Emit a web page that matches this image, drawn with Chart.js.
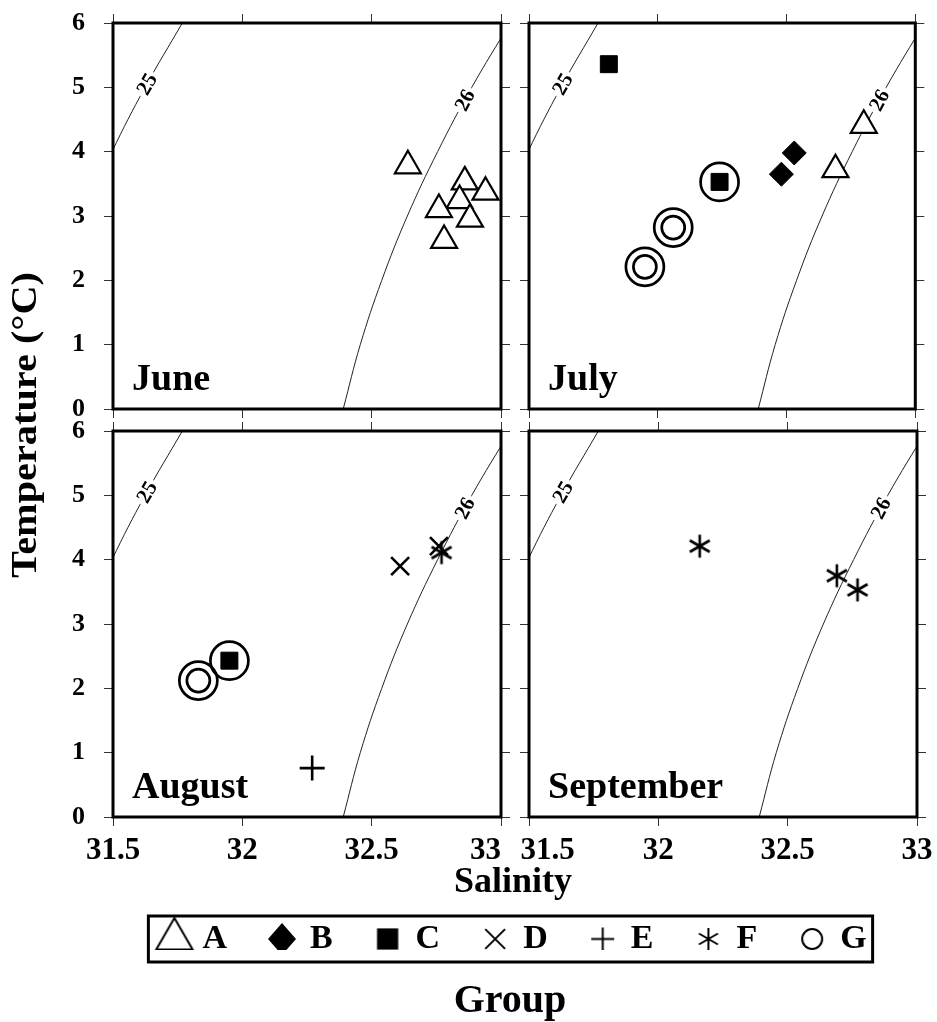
<!DOCTYPE html>
<html>
<head>
<meta charset="utf-8">
<title>T-S diagrams by month</title>
<script src="https://cdn.jsdelivr.net/npm/chart.js@4.4.1/dist/chart.umd.min.js"></script>
<style>
  html, body { margin: 0; padding: 0; background: #fff; }
  #wrap { position: relative; width: 937px; height: 1022px; }
  #wrap canvas { position: absolute; left: 0; top: 0; }
</style>
</head>
<body>
<div id="wrap">
  <canvas id="june" width="937" height="1022"></canvas>
  <canvas id="july" width="937" height="1022"></canvas>
  <canvas id="august" width="937" height="1022"></canvas>
  <canvas id="september" width="937" height="1022"></canvas>
  <canvas id="key" width="937" height="1022"></canvas>
</div>
<script>
var SERIF = "'Liberation Serif', 'Times New Roman', serif";
Chart.defaults.font.family = SERIF;
Chart.defaults.color = '#000';

// axes
var salTicks  = [31.5, 32, 32.5, 33];
var tempTicks = [0, 1, 2, 3, 4, 5, 6];
var groups = ['A', 'B', 'C', 'D', 'E', 'F', 'G'];
var months = ['June', 'July', 'August', 'September'];

// sigma-t isopycnals: salinity where each one crosses whole degrees
var sig25Temp = [3, 4, 5, 6];
var sig25Sal  = [31.384, 31.496, 31.624, 31.768];
var sig26Temp = [0, 1, 2, 3, 4, 5, 6];
var sig26Sal  = [32.390, 32.456, 32.539, 32.638, 32.755, 32.887, 33.035];

// June
var junA_sal  = [32.64, 32.86, 32.94, 32.84, 32.76, 32.88, 32.78];
var junA_temp = [3.78, 3.53, 3.37, 3.24, 3.10, 2.95, 2.62];

// July
var julA_sal = [32.80, 32.69],        julA_temp = [4.41, 3.72];
var julB_sal = [32.53, 32.48],        julB_temp = [3.98, 3.65];
var julC_sal = [31.81, 32.24],        julC_temp = [5.36, 3.53];
var julG_sal = [32.24, 32.06, 31.95], julG_temp = [3.53, 2.82, 2.21];
var julG2_sal = [32.06, 31.95],       julG2_temp = [2.82, 2.21];   // doubled G rings

// August
var augC_sal = [31.95],        augC_temp = [2.43];
var augD_sal = [32.61, 32.76], augD_temp = [3.90, 4.21];
var augE_sal = [32.27],        augE_temp = [0.76];
var augF_sal = [32.77],        augF_temp = [4.11];
var augG_sal = [31.83, 31.95], augG_temp = [2.12, 2.43];
var augG2_sal = [31.83],       augG2_temp = [2.12];

// September
var sepF_sal  = [32.16, 32.69, 32.77];
var sepF_temp = [4.21, 3.75, 3.53];

// panel frames in page pixels
var colLeft = [113, 529], colRight = [501, 917];
var rowTop = [23, 431], rowBottom = [409, 817];
var TICK = 9;

function asterisk(arm, lw) {
  var size = Math.ceil(arm * 2 + lw + 2);
  var c = document.createElement('canvas');
  c.width = c.height = size;
  var g = c.getContext('2d');
  g.strokeStyle = '#000';
  g.lineWidth = lw;
  g.translate(size / 2, size / 2);
  for (var k = 0; k < 3; k++) {
    var a = Math.PI / 2 + k * Math.PI / 3;
    g.beginPath();
    g.moveTo(Math.cos(a) * arm, Math.sin(a) * arm);
    g.lineTo(-Math.cos(a) * arm, -Math.sin(a) * arm);
    g.stroke();
  }
  return c;
}

// tall diamond for the key
function diamond(halfW, halfH) {
  var c = document.createElement('canvas');
  c.width = Math.ceil(halfW * 2 + 2);
  c.height = Math.ceil(halfH * 2 + 2);
  var g = c.getContext('2d');
  var cx = c.width / 2, cy = c.height / 2;
  g.fillStyle = '#000';
  g.beginPath();
  g.moveTo(cx, cy - halfH);
  g.lineTo(cx + halfW, cy);
  g.lineTo(cx, cy + halfH);
  g.lineTo(cx - halfW, cy);
  g.closePath();
  g.fill();
  return c;
}

var marks = {
  A:  { style: 'triangle', radius: 15,   fill: '#fff', lw: 2.2 },
  B:  { style: 'rectRot',  radius: 12,   fill: '#000', lw: 1 },
  C:  { style: 'rect',     radius: 12,   fill: '#000', lw: 1 },
  D:  { style: 'crossRot', radius: 12.7, fill: '#000', lw: 2.6 },
  E:  { style: 'cross',    radius: 12.5, fill: '#000', lw: 2.6 },
  F:  { style: asterisk(11.5, 2.6), radius: 12, fill: '#000', lw: 0 },
  G:  { style: 'circle',   radius: 19,   fill: 'rgba(0,0,0,0)', lw: 2.7 },
  G2: { style: 'circle',   radius: 11.5, fill: 'rgba(0,0,0,0)', lw: 2.7 }
};

// legend symbols
var keyMarks = {
  A: { style: 'triangle', radius: 21, fill: '#fff', lw: 2 },
  C: { style: 'rect',     radius: 15, fill: '#000', lw: 0 },
  D: { style: 'crossRot', radius: 14, fill: '#000', lw: 2 },
  E: { style: 'cross',    radius: 11.5, fill: '#000', lw: 2 },
  G: { style: 'circle',   radius: 10, fill: '#fff', lw: 2 }
};

function keyIcon(g) {
  if (g === 'B') return diamond(14, 16);
  if (g === 'F') return asterisk(11, 2);
  var m = keyMarks[g];
  var size = Math.ceil(m.radius * 2 + m.lw + 4);
  var c = document.createElement('canvas');
  c.width = c.height = size;
  var ctx = c.getContext('2d');
  ctx.fillStyle = m.fill;
  ctx.strokeStyle = '#000';
  ctx.lineWidth = m.lw;
  Chart.helpers.drawPoint(ctx, { pointStyle: m.style, radius: m.radius, rotation: 0, borderWidth: m.lw }, size / 2, size / 2);
  return c;
}

function pts(sal, temp) {
  return sal.map(function (s, i) { return { x: s, y: temp[i] }; });
}

function markSet(group, sal, temp) {
  var m = marks[group];
  return {
    label: group,
    data: pts(sal, temp),
    order: 1,
    showLine: false,
    pointStyle: m.style,
    pointRadius: m.radius,
    pointHoverRadius: m.radius,
    pointBackgroundColor: m.fill,
    pointBorderColor: '#000',
    pointBorderWidth: m.lw
  };
}

function isoSet(name, sal, temp, labelTemp) {
  return {
    label: name,
    data: pts(sal, temp),
    order: 10,
    showLine: true,
    tension: 0.4,
    borderColor: '#222',
    borderWidth: 1,
    pointRadius: 0,
    pointHoverRadius: 0,
    labelTemp: labelTemp
  };
}

// contour value written along the line, with a gap cut out
var isoLabels = {
  id: 'isoLabels',
  afterDatasetDraw: function (chart, args) {
    var ds = chart.data.datasets[args.index];
    if (ds.labelTemp === undefined) return;
    var xs = chart.scales.x, ys = chart.scales.y;
    var d = ds.data, i = 0;
    while (i < d.length - 2 && d[i + 1].y < ds.labelTemp) i++;
    var f = (ds.labelTemp - d[i].y) / (d[i + 1].y - d[i].y);
    var s = d[i].x + f * (d[i + 1].x - d[i].x);
    var px = xs.getPixelForValue(s), py = ys.getPixelForValue(ds.labelTemp);
    var ang = Math.atan2(ys.getPixelForValue(d[i + 1].y) - ys.getPixelForValue(d[i].y),
                         xs.getPixelForValue(d[i + 1].x) - xs.getPixelForValue(d[i].x));
    var ctx = chart.ctx;
    ctx.save();
    ctx.translate(px, py);
    ctx.rotate(ang);
    ctx.font = 'bold 21px ' + SERIF;
    var w = ctx.measureText(ds.label).width;
    ctx.fillStyle = '#fff';
    ctx.fillRect(-w / 2 - 3, -9, w + 6, 18);
    ctx.fillStyle = '#000';
    ctx.textAlign = 'center';
    ctx.textBaseline = 'middle';
    ctx.fillText(ds.label, 0, 1);
    ctx.restore();
  }
};

var frame = {
  id: 'frame',
  afterDraw: function (chart) {
    var a = chart.chartArea, ctx = chart.ctx;
    ctx.save();
    ctx.strokeStyle = '#000';
    ctx.lineWidth = 3;
    ctx.strokeRect(a.left, a.top, a.right - a.left, a.bottom - a.top);
    ctx.restore();
  }
};

var monthTag = {
  id: 'monthTag',
  afterDraw: function (chart, args, opts) {
    var a = chart.chartArea, ctx = chart.ctx;
    ctx.save();
    ctx.font = 'bold 38px ' + SERIF;
    ctx.fillStyle = '#000';
    ctx.textBaseline = 'alphabetic';
    ctx.fillText(opts.text, a.left + 19, a.bottom - 19);
    ctx.restore();
  }
};

function grid() {
  return { drawOnChartArea: false, drawTicks: true, tickLength: TICK, color: '#333', lineWidth: 1 };
}
function setTicks(list) {
  return function (scale) { scale.ticks = list.map(function (v) { return { value: v }; }); };
}

// neighbouring panels share an edge, so the end labels are nudged apart
function salLabel(col) {
  return function (v, i, ticks) {
    var s = String(v);
    if (col === 0 && i === ticks.length - 1) return s + '\u2003';
    if (col === 1 && i === 0) return '\u2003\u2009' + s;
    return s;
  };
}

function panel(id, month, datasets, col, row) {
  var yW = col === 0 ? 60 : TICK;
  var xH = row === 1 ? 60 : TICK;
  return new Chart(document.getElementById(id), {
    type: 'scatter',
    data: { datasets: datasets },
    options: {
      responsive: false,
      animation: false,
      events: [],
      layout: {
        padding: {
          left: colLeft[col] - yW,
          right: 937 - colRight[col] - TICK,
          top: rowTop[row] - TICK,
          bottom: 1022 - rowBottom[row] - xH
        }
      },
      scales: {
        x: {
          type: 'linear', position: 'bottom', min: 31.5, max: 33,
          afterBuildTicks: setTicks(salTicks),
          ticks: {
            display: row === 1, padding: 6, autoSkip: false, maxRotation: 0,
            font: { family: SERIF, size: 31, weight: 'bold' },
            callback: salLabel(col)
          },
          grid: grid(), border: { display: false },
          afterFit: function (s) { s.height = xH; s.paddingLeft = 0; s.paddingRight = 0; }
        },
        xTop: {
          type: 'linear', position: 'top', min: 31.5, max: 33,
          afterBuildTicks: setTicks(salTicks),
          ticks: { display: false },
          grid: grid(), border: { display: false },
          afterFit: function (s) { s.height = TICK; s.paddingLeft = 0; s.paddingRight = 0; }
        },
        y: {
          type: 'linear', position: 'left', min: 0, max: 6,
          afterBuildTicks: setTicks(tempTicks),
          ticks: {
            display: col === 0, padding: 19, autoSkip: false,
            font: { family: SERIF, size: 26, weight: 'bold' },
            callback: function (v) { return String(v); }
          },
          grid: grid(), border: { display: false },
          afterFit: function (s) { s.width = yW; s.paddingTop = 0; s.paddingBottom = 0; }
        },
        yRight: {
          type: 'linear', position: 'right', min: 0, max: 6,
          afterBuildTicks: setTicks(tempTicks),
          ticks: { display: false },
          grid: grid(), border: { display: false },
          afterFit: function (s) { s.width = TICK; s.paddingTop = 0; s.paddingBottom = 0; }
        }
      },
      plugins: {
        legend: { display: false },
        tooltip: { enabled: false },
        monthTag: { text: month }
      }
    },
    plugins: [isoLabels, frame, monthTag]
  });
}

function isolines() {
  return [isoSet('25', sig25Sal, sig25Temp, 5.05), isoSet('26', sig26Sal, sig26Temp, 4.8)];
}

panel('june', months[0], isolines().concat([
  markSet('A', junA_sal, junA_temp)
]), 0, 0);

panel('july', months[1], isolines().concat([
  markSet('A', julA_sal, julA_temp),
  markSet('B', julB_sal, julB_temp),
  markSet('C', julC_sal, julC_temp),
  markSet('G', julG_sal, julG_temp),
  markSet('G2', julG2_sal, julG2_temp)
]), 1, 0);

panel('august', months[2], isolines().concat([
  markSet('C', augC_sal, augC_temp),
  markSet('D', augD_sal, augD_temp),
  markSet('E', augE_sal, augE_temp),
  markSet('F', augF_sal, augF_temp),
  markSet('G', augG_sal, augG_temp),
  markSet('G2', augG2_sal, augG2_temp)
]), 0, 1);

panel('september', months[3], isolines().concat([
  markSet('F', sepF_sal, sepF_temp)
]), 1, 1);

// shared key and axis titles
var keyIcons = groups.map(keyIcon);

var keyFrame = {
  id: 'keyFrame',
  afterDraw: function (chart) {
    var hb = chart.legend.legendHitBoxes;
    if (!hb || !hb.length) return;
    var first = hb[0], last = hb[hb.length - 1];
    var yc = first.top + 17;
    var ctx = chart.ctx;
    ctx.save();
    ctx.strokeStyle = '#000';
    ctx.lineWidth = 3;
    var x0 = first.left - 15, x1 = last.left + last.width + 6;
    ctx.strokeRect(x0, yc - 23, x1 - x0, 46);
    ctx.restore();
  }
};

var pageTitles = {
  id: 'pageTitles',
  afterDraw: function (chart) {
    var ctx = chart.ctx;
    ctx.save();
    ctx.fillStyle = '#000';
    ctx.textAlign = 'center';
    ctx.textBaseline = 'alphabetic';

    ctx.font = 'bold 36px ' + SERIF;
    ctx.fillText('Salinity', 513, 892);

    ctx.font = 'bold 40px ' + SERIF;
    ctx.fillText('Group', 510, 1012);

    var t = 'Temperature (\u00B0C)';
    ctx.font = 'bold 36px ' + SERIF;
    var k = 306 / ctx.measureText(t).width;
    ctx.translate(36, 425);
    ctx.rotate(-Math.PI / 2);
    ctx.scale(k, 1);
    ctx.fillText(t, 0, 0);
    ctx.restore();
  }
};

new Chart(document.getElementById('key'), {
  type: 'scatter',
  data: { datasets: groups.map(function (g) { return { label: g, data: [] }; }) },
  options: {
    responsive: false,
    animation: false,
    events: [],
    layout: { padding: { left: 93, right: 0, top: 878, bottom: 0 } },
    scales: { x: { display: false }, y: { display: false } },
    plugins: {
      tooltip: { enabled: false },
      legend: {
        position: 'top',
        align: 'center',
        labels: {
          usePointStyle: true,
          boxWidth: 22,
          padding: 44,
          color: '#000',
          font: { family: SERIF, size: 34, weight: 'bold' },
          generateLabels: function () {
            return groups.map(function (g, i) {
              return {
                text: g, pointStyle: keyIcons[i], fillStyle: '#000',
                strokeStyle: '#000', lineWidth: 0, hidden: false, datasetIndex: i
              };
            });
          }
        }
      }
    }
  },
  plugins: [keyFrame, pageTitles]
});
</script>
</body>
</html>
